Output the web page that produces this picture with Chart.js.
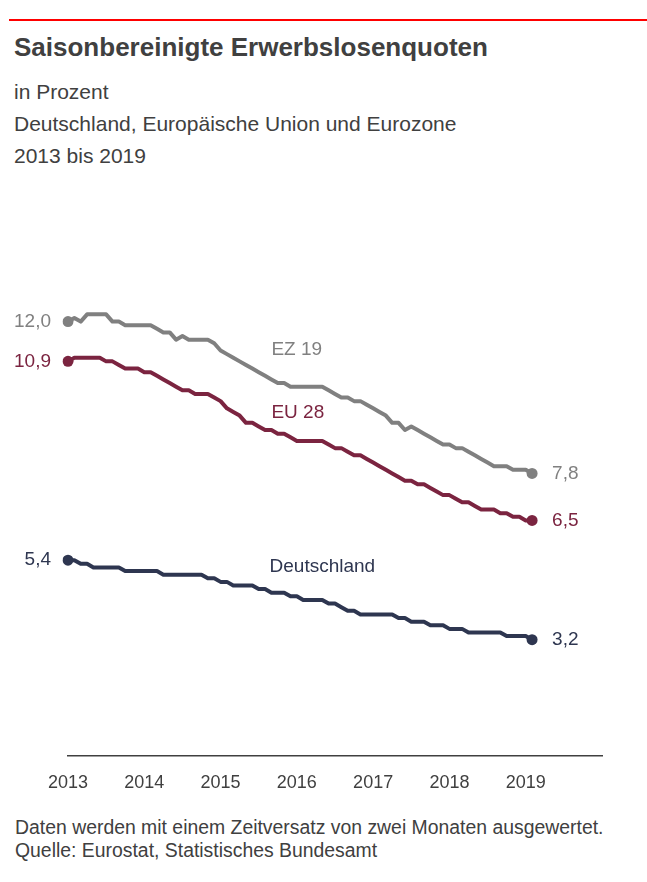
<!DOCTYPE html>
<html>
<head>
<meta charset="utf-8">
<script src="https://cdn.jsdelivr.net/npm/chart.js@4"></script>
<style>
  html, body { margin: 0; padding: 0; background: #fff; }
  body { width: 647px; height: 882px; position: relative; overflow: hidden;
         font-family: "Liberation Sans", Arial, sans-serif; color: #404040; }
  .rule { position: absolute; left: 9px; top: 19px; width: 638px; height: 2px; background: #ff0000; }
  .txt { position: absolute; left: 14px; line-height: 1; white-space: nowrap; }
  #chart { position: absolute; left: 0; top: 0; }
</style>
</head>
<body>
<div class="rule"></div>
<div class="txt" style="top:34px;font-size:26px;font-weight:bold;">Saisonbereinigte Erwerbslosenquoten</div>
<div class="txt" style="top:81px;font-size:21px;">in Prozent</div>
<div class="txt" style="top:113px;font-size:21px;">Deutschland, Europäische Union und Eurozone</div>
<div class="txt" style="top:145px;font-size:21px;">2013 bis 2019</div>
<div class="txt" style="top:818px;font-size:19.4px;left:15px;">Daten werden mit einem Zeitversatz von zwei Monaten ausgewertet.</div>
<div class="txt" style="top:841px;font-size:19.4px;left:15px;">Quelle: Eurostat, Statistisches Bundesamt</div>
<canvas id="chart" width="647" height="882"></canvas>
<script>
// monthly values, Jan 2013 - Feb 2019
const ez19 = [
  12.0, 12.1, 12.0, 12.2, 12.2, 12.2, 12.2, 12.0, 12.0, 11.9, 11.9, 11.9,
  11.9, 11.9, 11.8, 11.7, 11.7, 11.5, 11.6, 11.5, 11.5, 11.5, 11.5, 11.4,
  11.2, 11.1, 11.0, 10.9, 10.8, 10.7, 10.6, 10.5, 10.4, 10.3, 10.3, 10.2,
  10.2, 10.2, 10.2, 10.2, 10.2, 10.1, 10.0, 9.9, 9.9, 9.8, 9.8, 9.7,
  9.6, 9.5, 9.4, 9.2, 9.2, 9.0, 9.1, 9.0, 8.9, 8.8, 8.7, 8.6,
  8.6, 8.5, 8.5, 8.4, 8.3, 8.2, 8.1, 8.0, 8.0, 8.0, 7.9, 7.9,
  7.9, 7.8
]
const eu28 = [
  10.9, 11.0, 11.0, 11.0, 11.0, 11.0, 10.9, 10.9, 10.8, 10.7, 10.7, 10.7,
  10.6, 10.6, 10.5, 10.4, 10.3, 10.2, 10.1, 10.1, 10.0, 10.0, 10.0, 9.9,
  9.8, 9.6, 9.5, 9.4, 9.2, 9.2, 9.1, 9.0, 9.0, 8.9, 8.9, 8.8,
  8.7, 8.7, 8.7, 8.7, 8.7, 8.6, 8.5, 8.5, 8.4, 8.3, 8.3, 8.2,
  8.1, 8.0, 7.9, 7.8, 7.7, 7.6, 7.6, 7.5, 7.5, 7.4, 7.3, 7.2,
  7.2, 7.1, 7.0, 7.0, 6.9, 6.8, 6.8, 6.8, 6.7, 6.7, 6.6, 6.6,
  6.5, 6.5
]
const deutschland = [
  5.4, 5.4, 5.3, 5.3, 5.2, 5.2, 5.2, 5.2, 5.2, 5.1, 5.1, 5.1,
  5.1, 5.1, 5.1, 5.0, 5.0, 5.0, 5.0, 5.0, 5.0, 5.0, 4.9, 4.9,
  4.8, 4.8, 4.7, 4.7, 4.7, 4.7, 4.6, 4.6, 4.5, 4.5, 4.5, 4.4,
  4.4, 4.3, 4.3, 4.3, 4.3, 4.2, 4.2, 4.1, 4.0, 4.0, 3.9, 3.9,
  3.9, 3.9, 3.9, 3.9, 3.8, 3.8, 3.7, 3.7, 3.7, 3.6, 3.6, 3.6,
  3.5, 3.5, 3.5, 3.4, 3.4, 3.4, 3.4, 3.4, 3.4, 3.3, 3.3, 3.3,
  3.3, 3.2
]
const years = [2013, 2014, 2015, 2016, 2017, 2018, 2019, 2020]

// month categories Jan 2013 .. Jan 2020 (axis runs to 2020, unlabelled)
const months = []
years.forEach(y => {
  for (let m = 1; m <= 12; m++) {
    if (y === 2020 && m > 1) break
    months.push(y + '-' + String(m).padStart(2, '0'))
  }
})

const GREY = '#808080'
const RED = '#7b2440'
const NAVY = '#2e3650'
const FONT = '"Liberation Sans", Arial, sans-serif'

const fmt = v => v.toFixed(1).replace('.', ',')

// series name labels, anchored in data space (month index, value)
const names = [
  { text: 'EZ 19', i: 32, v: 11.22, color: GREY },
  { text: 'EU 28', i: 32, v: 9.48, color: RED },
  { text: 'Deutschland', i: 31.7, v: 5.23, color: NAVY }
]

const endLabels = {
  id: 'endLabels',
  afterDatasetsDraw(chart) {
    const { ctx, scales: { x, y } } = chart
    ctx.save()
    ctx.font = '19px ' + FONT
    ctx.textBaseline = 'middle'
    chart.data.datasets.forEach(ds => {
      const d = ds.data
      const last = d.length - 1
      ctx.fillStyle = ds.borderColor
      ctx.textAlign = 'right'
      ctx.fillText(fmt(d[0]), x.getPixelForValue(0) - 17, y.getPixelForValue(d[0]))
      ctx.textAlign = 'left'
      ctx.fillText(fmt(d[last]), x.getPixelForValue(last) + 20, y.getPixelForValue(d[last]))
    })
    ctx.textAlign = 'left'
    names.forEach(n => {
      ctx.fillStyle = n.color
      const x0 = x.left + (x.right - x.left) * n.i / (months.length - 1)
      ctx.fillText(n.text, x0, y.getPixelForValue(n.v))
    })
    ctx.restore()
  }
}

function series(label, data, color) {
  return {
    label: label,
    data: data,
    borderColor: color,
    backgroundColor: color,
    borderWidth: 4,
    borderJoinStyle: 'round',
    borderCapStyle: 'round',
    tension: 0,
    pointRadius: c => (c.dataIndex === 0 || c.dataIndex === data.length - 1) ? 5.5 : 0,
    pointBorderWidth: 0,
    pointHoverRadius: 0
  }
}

new Chart(document.getElementById('chart'), {
  type: 'line',
  data: {
    labels: months,
    datasets: [
      series('EZ 19', ez19, GREY),
      series('EU 28', eu28, RED),
      series('Deutschland', deutschland, NAVY)
    ]
  },
  options: {
    responsive: false,
    animation: false,
    events: [],
    layout: { padding: { left: 68, right: 45, top: 177, bottom: 71 } },
    plugins: { legend: { display: false }, tooltip: { enabled: false } },
    scales: {
      x: {
        type: 'category',
        offset: false,
        grid: { display: false, drawTicks: false },
        border: { display: true, color: '#404040', width: 1.5 },
        ticks: {
          autoSkip: false,
          maxRotation: 0,
          padding: 17,
          color: '#404040',
          font: { family: FONT, size: 18 },
          callback: (v, i) => (i % 12 === 0 && i < months.length - 1) ? months[i].slice(0, 4) : ''
        }
      },
      y: {
        display: false,
        min: 0,
        max: 16
      }
    }
  },
  plugins: [endLabels]
})
</script>
</body>
</html>
